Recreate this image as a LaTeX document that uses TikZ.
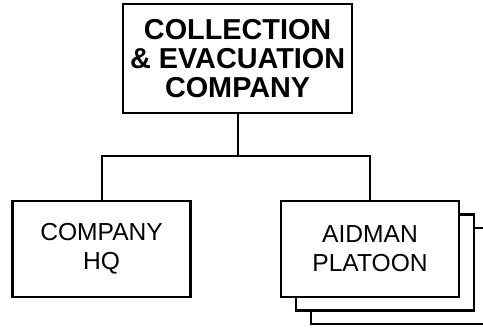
\documentclass[tikz,border=0pt]{standalone}
\usepackage{fontspec}
\setmainfont{Liberation Sans}
\usetikzlibrary{positioning}

\begin{document}
\begin{tikzpicture}[every node/.style={align=center}]
\tikzset{
  unit/.style={draw, fill=white, line width=1.7pt, inner sep=0pt},
  hqbox/.style={unit, minimum width=4.45cm, minimum height=2.4cm, font=\fontsize{17.5}{20.5}\selectfont},
  topbox/.style={unit, minimum width=5.72cm, minimum height=2.72cm, font=\fontsize{20.5}{20.5}\selectfont\bfseries},
  link/.style={line width=1.5pt}
}
  \def\dx{0.375}
  \def\dy{0.34}
  \clip (0,0) rectangle (12.075,8.175);

  % command
  \node[topbox] (coll) at (5.94,6.71) {COLLECTION\\\& EVACUATION\\COMPANY};

  % subordinate units
  \node[hqbox] (hq) at (2.54,1.95) {COMPANY\\HQ};
  \node[hqbox] (plat3) at (9.25+2*\dx,1.95-2*\dy) {};
  \node[hqbox] (plat2) at (9.25+\dx,1.95-\dy) {};
  \node[hqbox] (plat) at (9.25,1.95) {AIDMAN\\PLATOON};

  \coordinate (split) at (coll.south |- 0,4.275);
  \draw[link] (coll.south) -- (split);
  \draw[link] (hq.north) -- (hq.north |- split) -- (plat.north |- split) -- (plat.north);
\end{tikzpicture}
\end{document}
